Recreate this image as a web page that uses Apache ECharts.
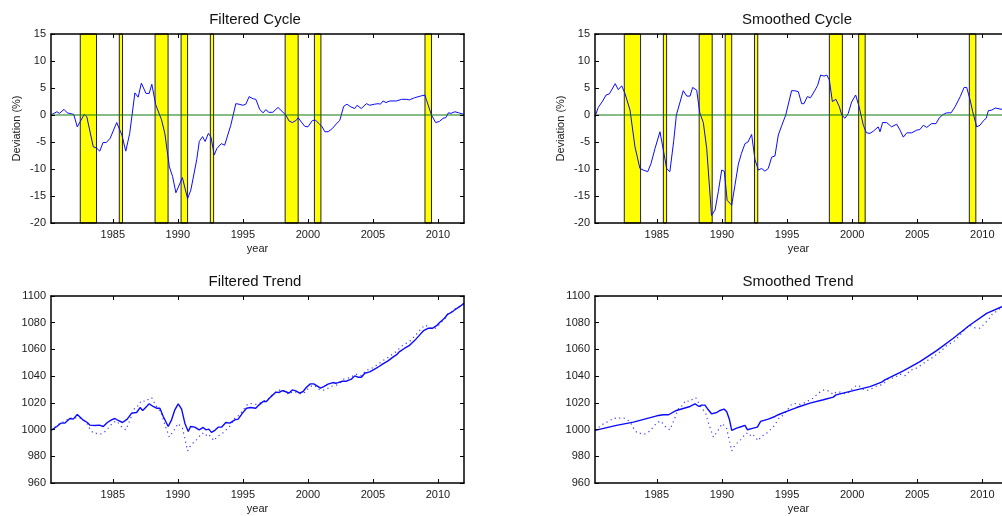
<!DOCTYPE html>
<html><head><meta charset="utf-8">
<script src="https://cdn.jsdelivr.net/npm/echarts@6/dist/echarts.min.js"></script>
<style>html,body{margin:0;padding:0;background:#fff}#c{width:1002px;height:516px}</style>
</head><body><div id="c"></div>
<script>
const yearTicks = [1985, 1990, 1995, 2000, 2005, 2010];
const panelTitles = ['Filtered Cycle', 'Smoothed Cycle', 'Filtered Trend', 'Smoothed Trend'];
const recessions = [[1982.5,1983.75],[1985.5,1985.75],[1988.25,1989.25],[1990.25,1990.75],[1992.5,1992.75],[1998.25,1999.25],[2000.5,2001.0],[2009.0,2009.5]];

const filteredCycle = [[1980.25,0.0],[1980.7,0.6],[1980.9,0.3],[1981.25,1.05],[1981.5,0.4],[1982.0,0.1],[1982.27,-2.2],[1982.5,-1.2],[1982.8,0.1],[1983.0,-0.3],[1983.5,-5.9],[1983.75,-6.1],[1984.0,-6.7],[1984.25,-5.1],[1984.5,-5.1],[1984.8,-4.3],[1985.3,-1.4],[1985.7,-3.7],[1986.0,-6.7],[1986.3,-3.4],[1986.7,4.1],[1986.95,3.3],[1987.2,5.9],[1987.55,4.0],[1987.8,4.0],[1988.0,5.7],[1988.3,1.9],[1988.75,-0.9],[1989.0,-3.4],[1989.35,-9.6],[1989.6,-11.4],[1989.85,-14.4],[1990.0,-14.5],[1990.35,-11.6],[1990.5,-11.6],[1990.75,-15.5],[1991.0,-13.9],[1991.45,-8.3],[1991.65,-4.9],[1991.9,-4.0],[1992.1,-4.9],[1992.35,-3.4],[1992.55,-4.1],[1992.8,-7.4],[1993.0,-6.2],[1993.35,-5.3],[1993.6,-5.6],[1993.75,-5.8],[1994.07,-1.9],[1994.46,2.1],[1994.7,2.0],[1995.0,1.8],[1995.23,2.0],[1995.48,3.4],[1995.79,3.0],[1996.0,2.9],[1996.3,1.0],[1996.56,0.4],[1996.76,1.0],[1997.0,0.5],[1997.3,0.5],[1997.7,1.4],[1998.0,0.7],[1998.3,0.0],[1998.55,-1.1],[1998.8,-1.4],[1999.1,-1.0],[1999.25,-0.5],[1999.5,-1.3],[1999.76,-2.1],[2000.0,-2.2],[2000.35,-1.0],[2000.6,-1.0],[2000.86,-1.6],[2001.1,-2.2],[2001.3,-3.1],[2001.55,-3.1],[2001.88,-2.5],[2002.24,-1.5],[2002.45,-1.0],[2002.75,1.6],[2003.0,2.0],[2003.3,1.5],[2003.6,1.2],[2003.78,1.8],[2004.1,1.2],[2004.5,2.1],[2004.75,1.8],[2005.13,2.0],[2005.4,2.1],[2005.57,2.0],[2005.78,2.6],[2006.0,2.3],[2006.3,2.6],[2006.8,2.6],[2007.2,2.9],[2007.6,2.9],[2007.8,2.8],[2008.2,3.2],[2008.65,3.5],[2009.0,3.7],[2009.1,2.9],[2009.5,0.0],[2009.82,-1.4],[2010.1,-1.2],[2010.4,-0.6],[2010.6,-0.5],[2010.8,0.4],[2011.0,0.3],[2011.3,0.6],[2011.6,0.4],[2012.0,0.1]];

const smoothedCycle = [[1980.25,-0.3],[1980.5,1.4],[1980.84,2.6],[1981.1,3.7],[1981.35,3.9],[1981.8,5.8],[1982.04,4.7],[1982.3,5.4],[1982.55,4.0],[1982.94,0.9],[1983.32,-5.9],[1983.7,-9.9],[1983.96,-10.2],[1984.3,-10.5],[1984.55,-9.0],[1984.86,-6.2],[1985.24,-3.1],[1985.5,-6.5],[1985.75,-9.9],[1986.0,-10.5],[1986.3,-4.7],[1986.5,0.0],[1987.03,4.5],[1987.3,3.5],[1987.55,3.5],[1987.75,5.1],[1988.06,4.6],[1988.3,0.4],[1988.57,-1.4],[1988.83,-6.2],[1989.2,-18.6],[1989.47,-17.6],[1989.72,-14.2],[1989.98,-10.2],[1990.18,-10.4],[1990.4,-15.8],[1990.75,-16.7],[1991.0,-13.0],[1991.26,-9.1],[1991.5,-7.1],[1991.77,-5.3],[1992.0,-5.0],[1992.28,-3.6],[1992.54,-8.3],[1992.8,-10.2],[1993.05,-9.9],[1993.3,-10.4],[1993.56,-9.9],[1993.82,-7.8],[1994.07,-7.6],[1994.33,-3.7],[1994.6,-1.9],[1994.9,0.0],[1995.35,4.5],[1995.6,4.5],[1995.87,4.3],[1996.12,2.1],[1996.3,2.1],[1996.56,3.4],[1996.8,3.2],[1997.15,4.6],[1997.35,5.5],[1997.58,7.4],[1997.84,7.2],[1998.05,7.4],[1998.25,6.5],[1998.48,2.5],[1998.76,2.9],[1999.02,1.5],[1999.2,0.0],[1999.45,-0.6],[1999.7,0.3],[1999.96,2.4],[2000.27,3.7],[2000.53,1.6],[2000.86,-1.9],[2001.1,-3.3],[2001.37,-3.4],[2001.63,-3.0],[2002.0,-2.2],[2002.14,-3.1],[2002.34,-1.4],[2002.65,-1.4],[2003.03,-2.2],[2003.42,-1.7],[2003.68,-2.8],[2003.93,-4.1],[2004.2,-3.3],[2004.58,-3.3],[2004.96,-2.8],[2005.2,-2.7],[2005.47,-1.9],[2005.73,-2.3],[2006.1,-1.6],[2006.44,-1.6],[2006.7,-0.5],[2007.0,0.1],[2007.26,0.4],[2007.6,0.4],[2007.9,1.5],[2008.3,3.4],[2008.6,5.1],[2008.8,5.1],[2009.06,2.8],[2009.26,0.6],[2009.57,-2.2],[2009.82,-1.9],[2010.1,-1.0],[2010.3,-0.6],[2010.46,0.8],[2010.72,0.9],[2011.0,1.3],[2011.36,1.1],[2011.7,1.0],[2012.0,0.9]];

const filteredTrend = [[1980.25,999.4],[1980.7,1002.3],[1981.0,1004.8],[1981.3,1004.8],[1981.7,1008.3],[1981.96,1007.8],[1982.27,1011.3],[1982.7,1007.3],[1983.04,1005.3],[1983.25,1003.3],[1983.63,1003.1],[1983.96,1003.3],[1984.27,1002.3],[1984.58,1005.3],[1984.9,1007.3],[1985.16,1008.3],[1985.42,1006.8],[1985.75,1005.3],[1986.11,1007.8],[1986.45,1012.3],[1986.83,1012.8],[1987.1,1016.5],[1987.3,1014.3],[1987.6,1017.3],[1987.8,1019.3],[1988.1,1017.3],[1988.37,1016.0],[1988.62,1016.0],[1988.88,1009.8],[1989.26,1002.3],[1989.52,1007.3],[1989.77,1014.8],[1990.03,1019.3],[1990.29,1015.3],[1990.54,1004.8],[1990.8,998.6],[1990.98,1002.3],[1991.3,1001.8],[1991.64,999.8],[1991.95,1001.6],[1992.15,999.8],[1992.38,1000.3],[1992.59,997.9],[1992.85,999.4],[1993.1,1001.8],[1993.36,1001.8],[1993.69,1005.3],[1994.0,1004.8],[1994.38,1007.3],[1994.64,1007.8],[1994.97,1012.3],[1995.28,1016.0],[1995.58,1016.5],[1995.99,1016.0],[1996.25,1018.5],[1996.56,1021.0],[1996.81,1021.0],[1997.12,1024.3],[1997.53,1028.0],[1997.79,1027.8],[1998.04,1029.2],[1998.3,1028.3],[1998.55,1027.3],[1998.81,1029.7],[1999.07,1029.0],[1999.37,1027.3],[1999.63,1028.5],[1999.89,1031.7],[2000.19,1034.2],[2000.45,1034.2],[2000.7,1032.7],[2000.96,1031.0],[2001.22,1032.2],[2001.55,1034.0],[2001.93,1035.2],[2002.14,1034.7],[2002.32,1035.2],[2002.65,1036.2],[2002.96,1036.2],[2003.34,1037.7],[2003.6,1040.2],[2003.85,1039.2],[2004.11,1039.2],[2004.37,1042.2],[2004.75,1043.2],[2005.13,1045.2],[2005.47,1047.2],[2005.77,1049.2],[2006.16,1051.4],[2006.54,1054.2],[2006.8,1055.9],[2007.05,1058.4],[2007.44,1060.9],[2007.82,1063.1],[2008.2,1066.6],[2008.6,1070.9],[2008.9,1074.1],[2009.23,1075.8],[2009.56,1075.8],[2009.87,1077.6],[2010.13,1080.1],[2010.5,1083.3],[2010.76,1086.5],[2011.0,1087.5],[2011.28,1089.5],[2011.66,1092.0],[2012.0,1094.5]];

const smoothedTrend = [[1980.25,999.4],[1981.9,1003.1],[1983.2,1005.6],[1985.0,1010.3],[1985.5,1011.1],[1985.9,1011.1],[1986.5,1014.3],[1987.55,1017.3],[1987.93,1019.3],[1988.24,1017.3],[1988.44,1018.3],[1988.7,1018.3],[1988.95,1014.8],[1989.2,1011.8],[1989.6,1012.8],[1989.85,1014.3],[1990.16,1015.3],[1990.36,1013.6],[1990.57,1007.8],[1990.75,999.4],[1991.13,1001.1],[1991.52,1002.3],[1991.77,1003.1],[1991.95,999.9],[1992.41,1001.1],[1992.72,1001.8],[1992.97,1006.1],[1993.56,1007.8],[1994.07,1009.8],[1994.33,1011.1],[1994.97,1013.6],[1995.74,1016.5],[1996.76,1019.8],[1997.79,1022.3],[1998.55,1024.3],[1998.76,1026.0],[2000.09,1029.2],[2001.37,1032.2],[2002.27,1035.5],[2002.52,1037.2],[2003.93,1043.9],[2005.21,1050.9],[2006.49,1059.1],[2007.77,1068.4],[2009.05,1078.3],[2010.33,1087.0],[2011.5,1092.0],[2012.0,1094.5]];

const actual = [[1980.25,999.5],[1980.7,1002.9],[1981.0,1005.1],[1981.25,1005.9],[1981.7,1008.7],[1982.0,1008.0],[1982.27,1009.1],[1982.5,1008.5],[1982.75,1007.3],[1983.0,1005.0],[1983.25,1000.3],[1983.5,997.3],[1983.75,997.1],[1984.0,996.5],[1984.25,997.2],[1984.5,999.4],[1984.8,1002.7],[1985.0,1005.2],[1985.3,1006.4],[1985.7,1001.8],[1986.0,999.8],[1986.3,1006.6],[1986.7,1016.7],[1986.95,1017.8],[1987.2,1021.7],[1987.55,1021.0],[1987.8,1023.3],[1988.0,1023.7],[1988.3,1018.1],[1988.75,1012.1],[1989.0,1003.6],[1989.35,994.4],[1989.6,998.1],[1989.85,1001.6],[1990.0,1004.5],[1990.35,1001.4],[1990.5,994.9],[1990.75,984.0],[1991.0,988.4],[1991.45,992.5],[1991.65,994.9],[1991.9,997.4],[1992.1,995.3],[1992.35,996.8],[1992.55,994.2],[1992.8,991.7],[1993.0,994.8],[1993.35,996.5],[1993.6,998.7],[1993.95,1002.0],[1994.25,1006.5],[1994.46,1009.6],[1994.7,1010.5],[1995.0,1014.1],[1995.23,1017.7],[1995.48,1019.7],[1995.79,1019.2],[1996.0,1018.9],[1996.3,1019.8],[1996.56,1021.4],[1996.76,1022.0],[1997.0,1023.5],[1997.3,1026.3],[1997.7,1029.4],[1998.0,1029.7],[1998.3,1028.3],[1998.55,1026.2],[1998.8,1028.3],[1999.1,1028.0],[1999.25,1027.5],[1999.5,1026.6],[1999.76,1027.9],[2000.0,1030.5],[2000.35,1033.2],[2000.6,1032.3],[2000.86,1030.1],[2001.1,1029.4],[2001.3,1029.6],[2001.55,1030.9],[2001.88,1032.6],[2002.24,1033.5],[2002.45,1034.6],[2002.75,1037.8],[2003.0,1038.3],[2003.3,1039.0],[2003.6,1041.4],[2003.78,1041.3],[2004.1,1040.4],[2004.5,1044.7],[2004.75,1045.0],[2005.13,1047.2],[2005.4,1048.9],[2005.78,1051.8],[2006.0,1052.7],[2006.3,1055.0],[2006.8,1058.5],[2007.2,1062.4],[2007.6,1064.8],[2007.8,1065.8],[2008.2,1069.8],[2008.65,1074.9],[2009.0,1078.3],[2009.1,1078.1],[2009.5,1075.8],[2009.82,1075.9],[2010.1,1078.6],[2010.4,1081.8],[2010.6,1084.0],[2010.8,1087.0],[2011.0,1087.8],[2011.3,1090.2],[2011.6,1092.0],[2012.0,1094.6]];

const FONT = '"Liberation Sans", Arial, sans-serif';
const TXT = '#1a1a1a';
// right-hand panels run past the right edge of the picture (cut off at about 2011.5)
const grids = [
  {left: 51, top: 34, width: 413, height: 189},
  {left: 595, top: 34, width: 407, height: 189},
  {left: 51, top: 296, width: 413, height: 187},
  {left: 595, top: 296, width: 407, height: 187}
];
const xMax = [2012, 2011.51, 2012, 2011.51];
const titlePos = [[255, 12], [797, 12], [255, 274], [798, 274]];

const xAxis = [], yAxis = [];
grids.forEach((g, i) => {
  const base = {
    type: 'value', gridIndex: i, min: 1980.25, max: xMax[i], z: 10,
    axisLine: {show: true, onZero: false, lineStyle: {color: '#000', width: 1.5}},
    axisTick: {show: true, inside: true, length: 4, customValues: yearTicks, lineStyle: {color: '#000', width: 1}},
    splitLine: {show: false}
  };
  xAxis.push(Object.assign({}, base, {
    position: 'bottom',
    axisLabel: {customValues: yearTicks, formatter: v => String(v), margin: 6, fontSize: 11, color: TXT, fontFamily: FONT},
    name: 'year', nameLocation: 'middle', nameGap: 20,
    nameTextStyle: {fontSize: 11, color: TXT, fontFamily: FONT}
  }));
  xAxis.push(Object.assign({}, base, {position: 'top', axisLabel: {show: false}}));
  const isCycle = i < 2;
  const ybase = {
    type: 'value', gridIndex: i, z: 10,
    min: isCycle ? -20 : 960, max: isCycle ? 15 : 1100, interval: isCycle ? 5 : 20,
    axisLine: {show: true, onZero: false, lineStyle: {color: '#000', width: 1.5}},
    axisTick: {show: true, inside: true, length: 4, lineStyle: {color: '#000', width: 1}},
    splitLine: {show: false}
  };
  yAxis.push(Object.assign({}, ybase, {
    position: 'left',
    axisLabel: {margin: 5, formatter: v => String(v), fontSize: 11, color: TXT, fontFamily: FONT},
    name: isCycle ? 'Deviation (%)' : '', nameLocation: 'middle', nameGap: 29,
    nameTextStyle: {fontSize: 11, color: TXT, fontFamily: FONT}
  }));
  const rightVisible = (i % 2 === 0);
  yAxis.push(Object.assign({}, ybase, {position: 'right', show: rightVisible, axisLabel: {show: false}}));
});

const bandData = recessions.map(r => [{xAxis: r[0]}, {xAxis: r[1]}]);
function cycleSeries(data, gi) {
  return {
    type: 'line', xAxisIndex: gi * 2, yAxisIndex: gi * 2, data: data,
    showSymbol: false, symbol: 'none', z: 3,
    lineStyle: {color: '#0a0aff', width: 1},
    markArea: {silent: true, z: 1, itemStyle: {color: '#ffff00', borderColor: '#222', borderWidth: 1}, data: bandData}
  };
}
function zeroSeries(gi) {
  return {
    type: 'line', xAxisIndex: gi * 2, yAxisIndex: gi * 2, data: [[1980.25, 0], [xMax[gi], 0]],
    showSymbol: false, symbol: 'none', z: 4, silent: true,
    lineStyle: {color: '#0f7a0f', width: 1.2}
  };
}
function trendSeries(data, gi) {
  return {type: 'line', xAxisIndex: gi * 2, yAxisIndex: gi * 2, data: data,
    showSymbol: false, symbol: 'none', z: 3, lineStyle: {color: '#0a0aff', width: 1.4}};
}
function actualSeries(gi) {
  return {type: 'line', xAxisIndex: gi * 2, yAxisIndex: gi * 2, data: actual,
    showSymbol: false, symbol: 'none', z: 2, lineStyle: {color: '#3a3aff', width: 1.2, type: [1.2, 3.5]}};
}

const option = {
  backgroundColor: '#fff',
  animation: false,
  title: panelTitles.map((t, i) => ({
    text: t, left: titlePos[i][0], top: titlePos[i][1], textAlign: 'center', padding: 0,
    textStyle: {fontSize: 15, fontWeight: 'normal', color: '#111', fontFamily: FONT}
  })),
  grid: grids,
  xAxis: xAxis,
  yAxis: yAxis,
  series: [
    cycleSeries(filteredCycle, 0),
    zeroSeries(0),
    cycleSeries(smoothedCycle, 1),
    zeroSeries(1),
    actualSeries(2),
    trendSeries(filteredTrend, 2),
    actualSeries(3),
    trendSeries(smoothedTrend, 3)
  ]
};
const chart = echarts.init(document.getElementById('c'), null, {renderer: 'canvas'});
chart.setOption(option);
</script></body></html>
